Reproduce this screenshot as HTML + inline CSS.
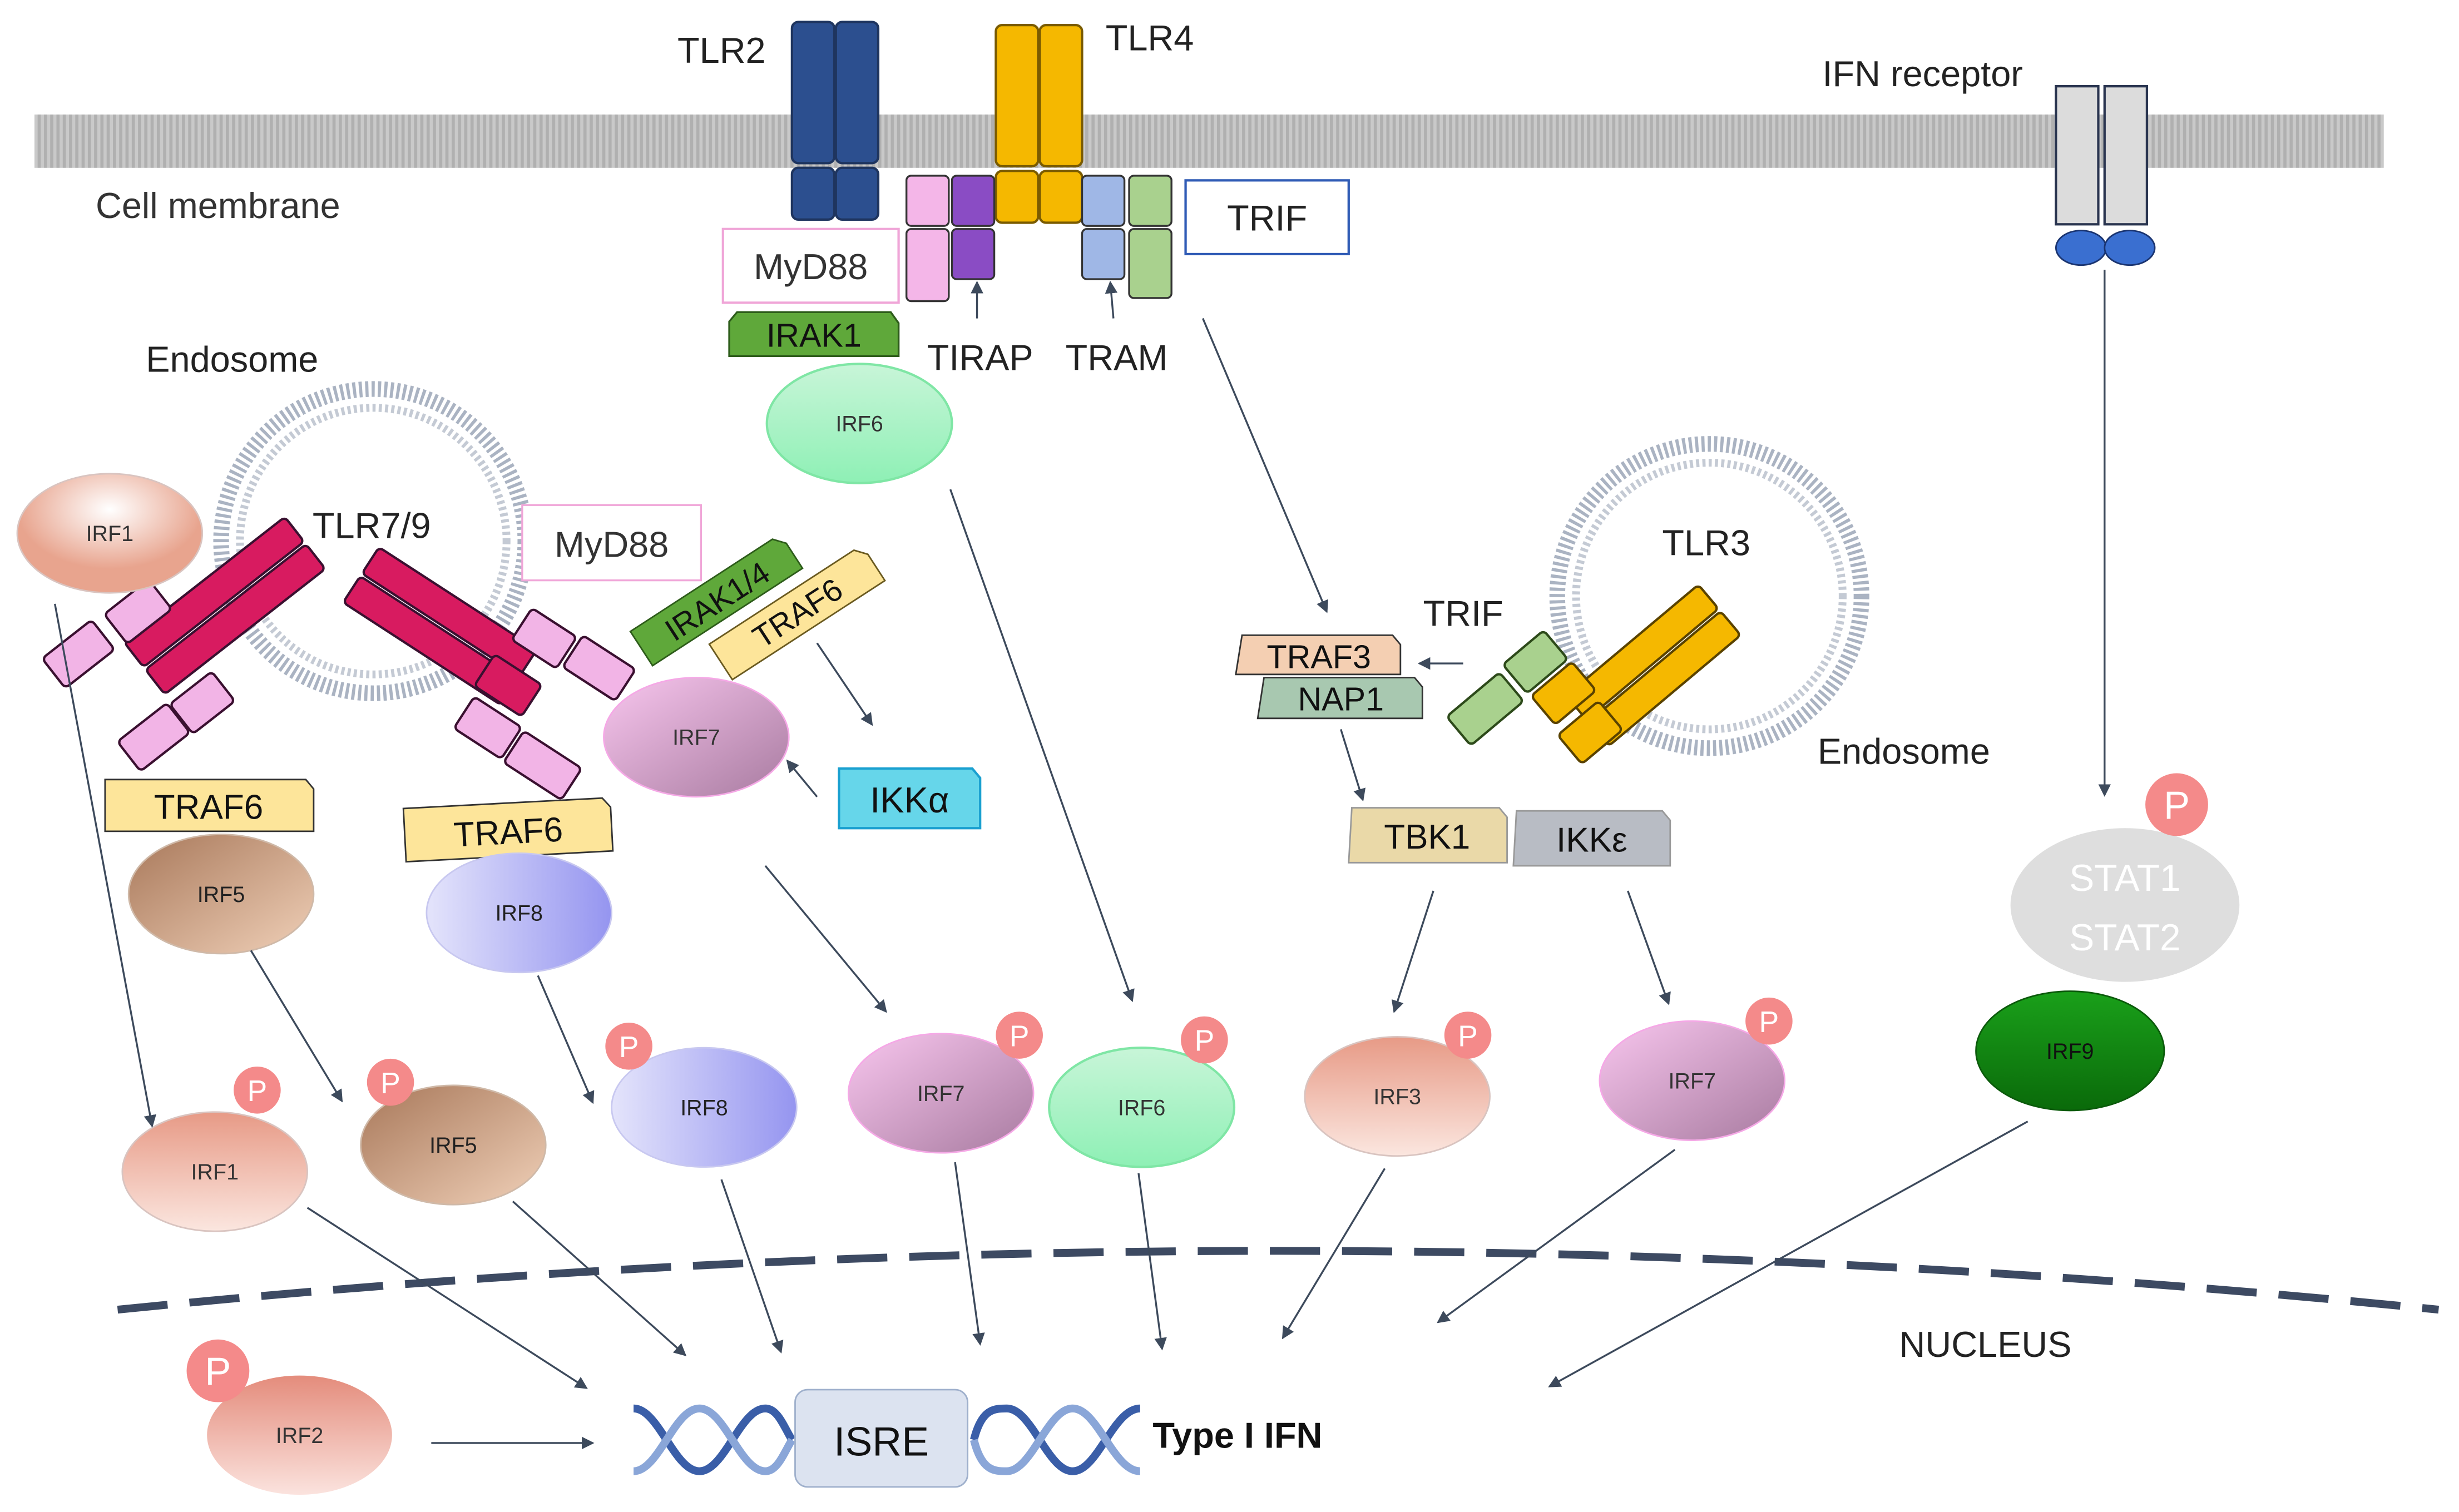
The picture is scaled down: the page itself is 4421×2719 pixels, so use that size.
<!DOCTYPE html>
<html><head><meta charset="utf-8">
<style>
html,body{margin:0;padding:0;background:#fff;}
svg{display:block;}
text{font-family:"Liberation Sans","DejaVu Sans",sans-serif;}
</style></head>
<body>
<svg width="4421" height="2719" viewBox="0 0 1568 964" preserveAspectRatio="none" xmlns="http://www.w3.org/2000/svg">
<defs>
<marker id="ar" markerWidth="8" markerHeight="8" refX="7" refY="4" orient="auto" markerUnits="userSpaceOnUse"><path d="M0,0 L8,4 L0,8 z" fill="#3d4a5c"/></marker>
<pattern id="mem" width="4" height="34" patternUnits="userSpaceOnUse"><rect width="4" height="34" fill="#c9c9c9"/><rect width="2" height="34" fill="#b0b0b0"/></pattern>
<radialGradient id="gIRF1" cx="50%" cy="30%"><stop offset="0" stop-color="#fff"/><stop offset="1" stop-color="#e8a48e"/></radialGradient>
<linearGradient id="g1" x1="0" y1="0" x2="0" y2="1"><stop offset="0" stop-color="#e79a86"/><stop offset="1" stop-color="#fbe6df"/></linearGradient>
<linearGradient id="g5" x1="0" y1="0" x2="1" y2="1"><stop offset="0" stop-color="#a8785a"/><stop offset="1" stop-color="#f0d0b8"/></linearGradient>
<linearGradient id="g8" x1="0" y1="0" x2="1" y2="0"><stop offset="0" stop-color="#e4e4fb"/><stop offset="1" stop-color="#9595f0"/></linearGradient>
<linearGradient id="g7" x1="0" y1="0" x2="1" y2="1"><stop offset="0" stop-color="#f8c6ee"/><stop offset="1" stop-color="#a87ba0"/></linearGradient>
<linearGradient id="g6" x1="0" y1="0" x2="0" y2="1"><stop offset="0" stop-color="#c8f5d8"/><stop offset="1" stop-color="#8ef0b5"/></linearGradient>
<linearGradient id="g9" x1="0" y1="0" x2="0" y2="1"><stop offset="0" stop-color="#1aa01a"/><stop offset="1" stop-color="#0a6a0a"/></linearGradient>
<linearGradient id="g2" x1="0" y1="0" x2="0" y2="1"><stop offset="0" stop-color="#e48c7c"/><stop offset="1" stop-color="#fbe3de"/></linearGradient>
</defs>
<rect width="1568" height="964" fill="#fff"/>

<!-- membrane -->
<rect x="22" y="73" width="1498" height="34" fill="url(#mem)"/>
<text x="61" y="139" font-size="23" fill="#333">Cell membrane</text>

<!-- TLR2 -->
<g fill="#2c4f8f" stroke="#1f355f" stroke-width="1.5">
<rect x="505" y="14" width="27" height="90" rx="4"/><rect x="533" y="14" width="27" height="90" rx="4"/>
<rect x="505" y="107" width="27" height="33" rx="4"/><rect x="533" y="107" width="27" height="33" rx="4"/>
</g>
<text x="432" y="40" font-size="23" fill="#222">TLR2</text>
<!-- TLR4 -->
<g fill="#f5b800" stroke="#7a5b00" stroke-width="1.5">
<rect x="635" y="16" width="27" height="90" rx="4"/><rect x="663" y="16" width="27" height="90" rx="4"/>
<rect x="635" y="109" width="27" height="33" rx="4"/><rect x="663" y="109" width="27" height="33" rx="4"/>
</g>
<text x="705" y="32" font-size="23" fill="#222">TLR4</text>
<!-- TIRAP -->
<g stroke="#333" stroke-width="1.2">
<rect x="578" y="112" width="27" height="32" rx="3" fill="#f4b6e8"/><rect x="578" y="146" width="27" height="46" rx="3" fill="#f4b6e8"/>
<rect x="607" y="112" width="27" height="32" rx="3" fill="#8a4cc4"/><rect x="607" y="146" width="27" height="32" rx="3" fill="#8a4cc4"/>
<rect x="690" y="112" width="27" height="32" rx="3" fill="#9fb7e6"/><rect x="690" y="146" width="27" height="32" rx="3" fill="#9fb7e6"/>
<rect x="720" y="112" width="27" height="32" rx="3" fill="#a9d18e"/><rect x="720" y="146" width="27" height="44" rx="3" fill="#a9d18e"/>
</g>
<rect x="756" y="115" width="104" height="47" fill="#fff" stroke="#2f5bb5" stroke-width="1.5"/>
<text x="808" y="147" font-size="23" text-anchor="middle" fill="#222">TRIF</text>
<rect x="461" y="146" width="112" height="47" fill="#fff" stroke="#f0a6d8" stroke-width="1.5"/>
<text x="517" y="178" font-size="23" text-anchor="middle" fill="#333">MyD88</text>
<path d="M470,199 L568,199 L573,206 L573,227 L465,227 L465,205 Z" fill="#5fa83a" stroke="#2d5c1a" stroke-width="1.2"/>
<text x="519" y="221" font-size="21" text-anchor="middle" fill="#111">IRAK1</text>
<text x="625" y="236" font-size="23" text-anchor="middle" fill="#222">TIRAP</text>
<text x="712" y="236" font-size="23" text-anchor="middle" fill="#222">TRAM</text>
<g stroke="#3d4a5c" stroke-width="1.2" fill="none" marker-end="url(#ar)">
<line x1="623" y1="203" x2="623" y2="180"/>
<line x1="710" y1="203" x2="708" y2="180"/>
</g>
<ellipse cx="548" cy="270" rx="59" ry="38" fill="url(#g6)" stroke="#7fe6a5" stroke-width="1.5"/>
<text x="548" y="275" font-size="14" text-anchor="middle" fill="#333">IRF6</text>

<!-- IFN receptor -->
<text x="1226" y="55" font-size="23" text-anchor="middle" fill="#222">IFN receptor</text>
<rect x="1311" y="55" width="27" height="88" fill="#dcdcdc" stroke="#2a3550" stroke-width="1.5"/>
<rect x="1342" y="55" width="27" height="88" fill="#dcdcdc" stroke="#2a3550" stroke-width="1.5"/>
<ellipse cx="1327" cy="158" rx="16" ry="11" fill="#3a6fd0" stroke="#1a3470"/>
<ellipse cx="1358" cy="158" rx="16" ry="11" fill="#3a6fd0" stroke="#1a3470"/>
<line x1="1342" y1="172" x2="1342" y2="507" stroke="#3d4a5c" stroke-width="1.2" marker-end="url(#ar)"/>
<ellipse cx="1355" cy="577" rx="73" ry="49" fill="#dedede"/>
<text x="1355" y="568" font-size="24" text-anchor="middle" fill="#fff">STAT1</text>
<text x="1355" y="606" font-size="24" text-anchor="middle" fill="#fff">STAT2</text>
<ellipse cx="1320" cy="670" rx="60" ry="38" fill="url(#g9)" stroke="#0b5a0b"/>
<text x="1320" y="675" font-size="14" text-anchor="middle" fill="#111">IRF9</text>

<!-- left endosome -->
<circle cx="238" cy="345" r="97" fill="none" stroke="#aab3c2" stroke-width="10" stroke-dasharray="2 2"/>
<circle cx="238" cy="345" r="85" fill="none" stroke="#c4cad4" stroke-width="5" stroke-dasharray="2 2"/>
<text x="148" y="237" font-size="23" text-anchor="middle" fill="#222">Endosome</text>
<text x="237" y="343" font-size="23" text-anchor="middle" fill="#222">TLR7/9</text>

<!-- TLR7/9 left -->
<g stroke="#3a1030" stroke-width="1.5">
<g transform="rotate(-38 140 390)">
<rect x="80" y="368" width="130" height="20" rx="3" fill="#d81b60"/>
<rect x="80" y="390" width="130" height="20" rx="3" fill="#d81b60"/>
</g>
<rect x="30" y="405" width="40" height="24" rx="3" fill="#f2b4e6" transform="rotate(-38 50 417)"/>
<rect x="70" y="378" width="36" height="24" rx="3" fill="#f2b4e6" transform="rotate(-38 88 390)"/>
<rect x="78" y="458" width="40" height="24" rx="3" fill="#f2b4e6" transform="rotate(-38 98 470)"/>
<rect x="112" y="436" width="34" height="24" rx="3" fill="#f2b4e6" transform="rotate(-38 129 448)"/>
</g>
<!-- TLR7/9 right -->
<g stroke="#3a1030" stroke-width="1.5">
<g transform="rotate(33 280 400)">
<rect x="220" y="378" width="120" height="20" rx="3" fill="#d81b60"/>
<rect x="220" y="400" width="120" height="20" rx="3" fill="#d81b60"/>
</g>
<rect x="306" y="425" width="36" height="24" rx="3" fill="#d81b60" transform="rotate(33 324 437)"/>
<rect x="330" y="395" width="34" height="24" rx="3" fill="#f2b4e6" transform="rotate(33 347 407)"/>
<rect x="362" y="414" width="40" height="24" rx="3" fill="#f2b4e6" transform="rotate(33 382 426)"/>
<rect x="293" y="452" width="36" height="24" rx="3" fill="#f2b4e6" transform="rotate(33 311 464)"/>
<rect x="324" y="476" width="44" height="24" rx="3" fill="#f2b4e6" transform="rotate(33 346 488)"/>
</g>
<rect x="333" y="322" width="114" height="48" fill="#fff" stroke="#f0a6d8" stroke-width="1.2"/>
<text x="390" y="355" font-size="23" text-anchor="middle" fill="#333">MyD88</text>
<g transform="rotate(-33 456 383)">
<path d="M400,370 L508,370 L514,377 L514,396 L400,396 Z" fill="#5fa83a" stroke="#2d5c1a"/>
<text x="457" y="391" font-size="20" text-anchor="middle" fill="#111">IRAK1/4</text>
</g>
<g transform="rotate(-33 508 390)">
<path d="M450,377 L560,377 L566,384 L566,404 L450,404 Z" fill="#fde59a" stroke="#6a5a20"/>
<text x="508" y="398" font-size="20" text-anchor="middle" fill="#111">TRAF6</text>
</g>
<ellipse cx="444" cy="470" rx="59" ry="38" fill="url(#g7)" stroke="#f5a8e6"/>
<text x="444" y="475" font-size="14" text-anchor="middle" fill="#333">IRF7</text>
<path d="M535,490 L620,490 L625,496 L625,528 L535,528 Z" fill="#66d6ea" stroke="#1aa0d0" stroke-width="1.5"/>
<text x="580" y="518" font-size="23" text-anchor="middle" fill="#111">IKKα</text>
<ellipse cx="70" cy="340" rx="59" ry="38" fill="url(#gIRF1)" stroke="#d9c4c0"/>
<text x="70" y="345" font-size="14" text-anchor="middle" fill="#333">IRF1</text>
<path d="M67,497 L195,497 L200,503 L200,530 L67,530 Z" fill="#fde59a" stroke="#333"/>
<text x="133" y="522" font-size="22" text-anchor="middle" fill="#111">TRAF6</text>
<g transform="rotate(-3 324 529)"><path d="M258,512 L385,512 L390,518 L390,546 L258,546 Z" fill="#fde59a" stroke="#333"/>
<text x="324" y="538" font-size="22" text-anchor="middle" fill="#111">TRAF6</text></g>
<ellipse cx="141" cy="570" rx="59" ry="38" fill="url(#g5)" stroke="#cfb9a8"/>
<text x="141" y="575" font-size="14" text-anchor="middle" fill="#222">IRF5</text>
<ellipse cx="331" cy="582" rx="59" ry="38" fill="url(#g8)" stroke="#c8c8f0"/>
<text x="331" y="587" font-size="14" text-anchor="middle" fill="#222">IRF8</text>

<!-- TLR3 endosome -->
<circle cx="1090" cy="380" r="97" fill="none" stroke="#aab3c2" stroke-width="10" stroke-dasharray="2 2"/>
<circle cx="1090" cy="380" r="85" fill="none" stroke="#c4cad4" stroke-width="5" stroke-dasharray="2 2"/>
<text x="1088" y="354" font-size="23" text-anchor="middle" fill="#222">TLR3</text>
<text x="1214" y="487" font-size="23" text-anchor="middle" fill="#222">Endosome</text>
<text x="933" y="399" font-size="23" text-anchor="middle" fill="#222">TRIF</text>
<g stroke="#5a4300" stroke-width="1.5">
<g transform="rotate(-40 1055 425)">
<rect x="1000" y="403" width="110" height="20" rx="3" fill="#f5b800"/>
<rect x="1000" y="425" width="110" height="20" rx="3" fill="#f5b800"/>
</g>
<rect x="980" y="430" width="34" height="24" rx="3" fill="#f5b800" transform="rotate(-40 997 442)"/>
<rect x="997" y="455" width="34" height="24" rx="3" fill="#f5b800" transform="rotate(-40 1014 467)"/>
<rect x="962" y="410" width="34" height="24" rx="3" fill="#a9d18e" stroke="#2d4a1a" transform="rotate(-40 979 422)"/>
<rect x="925" y="440" width="44" height="24" rx="3" fill="#a9d18e" stroke="#2d4a1a" transform="rotate(-40 947 452)"/>
</g>
<path d="M792,405 L888,405 L893,411 L893,430 L788,430 Z" fill="#f4cfb2" stroke="#333"/>
<text x="841" y="426" font-size="21" text-anchor="middle" fill="#111">TRAF3</text>
<path d="M806,432 L902,432 L907,438 L907,458 L802,458 Z" fill="#a8c8b0" stroke="#333"/>
<text x="855" y="453" font-size="21" text-anchor="middle" fill="#111">NAP1</text>
<line x1="933" y1="423" x2="905" y2="423" stroke="#3d4a5c" stroke-width="1.2" marker-end="url(#ar)"/>
<path d="M862,515 L956,515 L961,521 L961,550 L860,550 Z" fill="#ead9a8" stroke="#999"/>
<text x="910" y="541" font-size="22" text-anchor="middle" fill="#111">TBK1</text>
<path d="M967,517 L1060,517 L1065,523 L1065,552 L965,552 Z" fill="#b8bcc4" stroke="#999"/>
<text x="1015" y="543" font-size="22" text-anchor="middle" fill="#111">IKKε</text>

<!-- bottom row IRFs -->
<ellipse cx="137" cy="747" rx="59" ry="38" fill="url(#g1)" stroke="#d9c4c0"/><text x="137" y="752" font-size="14" text-anchor="middle" fill="#333">IRF1</text>
<ellipse cx="289" cy="730" rx="59" ry="38" fill="url(#g5)" stroke="#cfb9a8"/><text x="289" y="735" font-size="14" text-anchor="middle" fill="#222">IRF5</text>
<ellipse cx="449" cy="706" rx="59" ry="38" fill="url(#g8)" stroke="#c8c8f0"/><text x="449" y="711" font-size="14" text-anchor="middle" fill="#222">IRF8</text>
<ellipse cx="600" cy="697" rx="59" ry="38" fill="url(#g7)" stroke="#f5a8e6"/><text x="600" y="702" font-size="14" text-anchor="middle" fill="#333">IRF7</text>
<ellipse cx="728" cy="706" rx="59" ry="38" fill="url(#g6)" stroke="#7fe6a5" stroke-width="1.5"/><text x="728" y="711" font-size="14" text-anchor="middle" fill="#333">IRF6</text>
<ellipse cx="891" cy="699" rx="59" ry="38" fill="url(#g1)" stroke="#d9c4c0"/><text x="891" y="704" font-size="14" text-anchor="middle" fill="#333">IRF3</text>
<ellipse cx="1079" cy="689" rx="59" ry="38" fill="url(#g7)" stroke="#f5a8e6"/><text x="1079" y="694" font-size="14" text-anchor="middle" fill="#333">IRF7</text>
<ellipse cx="191" cy="915" rx="59" ry="38" fill="url(#g2)"/><text x="191" y="920" font-size="14" text-anchor="middle" fill="#333">IRF2</text>

<!-- P circles -->
<g fill="#f48a8a">
<circle cx="164" cy="695" r="15"/><circle cx="249" cy="690" r="15"/><circle cx="401" cy="667" r="15"/>
<circle cx="650" cy="660" r="15"/><circle cx="768" cy="663" r="15"/><circle cx="936" cy="660" r="15"/>
<circle cx="1128" cy="651" r="15"/><circle cx="1388" cy="513" r="20"/><circle cx="139" cy="874" r="20"/>
</g>
<g fill="#fff" text-anchor="middle">
<text x="164" y="702" font-size="19">P</text><text x="249" y="697" font-size="19">P</text><text x="401" y="674" font-size="19">P</text>
<text x="650" y="667" font-size="19">P</text><text x="768" y="670" font-size="19">P</text><text x="936" y="667" font-size="19">P</text>
<text x="1128" y="658" font-size="19">P</text><text x="1388" y="522" font-size="25">P</text><text x="139" y="883" font-size="25">P</text>
</g>

<!-- nucleus -->
<path d="M75,835 Q815,760 1555,835" fill="none" stroke="#3d4a62" stroke-width="5" stroke-dasharray="32 14"/>
<text x="1266" y="865" font-size="23" text-anchor="middle" fill="#222">NUCLEUS</text>

<!-- DNA -->
<g fill="none" stroke-width="5">
<path d="M404,898 C420,898 430,938 446,938 C462,938 472,898 488,898 C496,898 500,910 505,918" stroke="#3a5ea8"/>
<path d="M404,938 C420,938 430,898 446,898 C462,898 472,938 488,938 C496,938 500,926 505,918" stroke="#8aa6d8"/>
<path d="M621,918 C626,898 634,898 642,898 C658,898 668,938 684,938 C700,938 710,898 727,898" stroke="#3a5ea8"/>
<path d="M621,918 C626,938 634,938 642,938 C658,938 668,898 684,898 C700,898 710,938 727,938" stroke="#8aa6d8"/>
</g>
<rect x="507" y="886" width="110" height="62" rx="8" fill="#dce3f0" stroke="#9fb0cc"/>
<text x="562" y="928" font-size="26" text-anchor="middle" fill="#111">ISRE</text>
<text x="735" y="923" font-size="23" font-weight="bold" fill="#111">Type I IFN</text>

<!-- arrows -->
<g stroke="#3d4a5c" stroke-width="1.2" fill="none" marker-end="url(#ar)">
<line x1="767" y1="203" x2="846" y2="390"/>
<line x1="606" y1="312" x2="722" y2="638"/>
<line x1="521" y1="410" x2="556" y2="462"/>
<line x1="521" y1="508" x2="502" y2="485"/>
<line x1="488" y1="552" x2="565" y2="645"/>
<line x1="35" y1="385" x2="97" y2="718"/>
<line x1="160" y1="606" x2="218" y2="702"/>
<line x1="343" y1="622" x2="378" y2="703"/>
<line x1="855" y1="465" x2="869" y2="510"/>
<line x1="914" y1="568" x2="889" y2="645"/>
<line x1="1038" y1="568" x2="1064" y2="640"/>
<line x1="196" y1="770" x2="374" y2="885"/>
<line x1="327" y1="766" x2="437" y2="864"/>
<line x1="460" y1="752" x2="498" y2="862"/>
<line x1="609" y1="741" x2="625" y2="857"/>
<line x1="726" y1="748" x2="741" y2="860"/>
<line x1="883" y1="745" x2="818" y2="853"/>
<line x1="1068" y1="733" x2="917" y2="843"/>
<line x1="1293" y1="715" x2="988" y2="884"/>
<line x1="275" y1="920" x2="378" y2="920"/>
</g>
</svg>
</body></html>
